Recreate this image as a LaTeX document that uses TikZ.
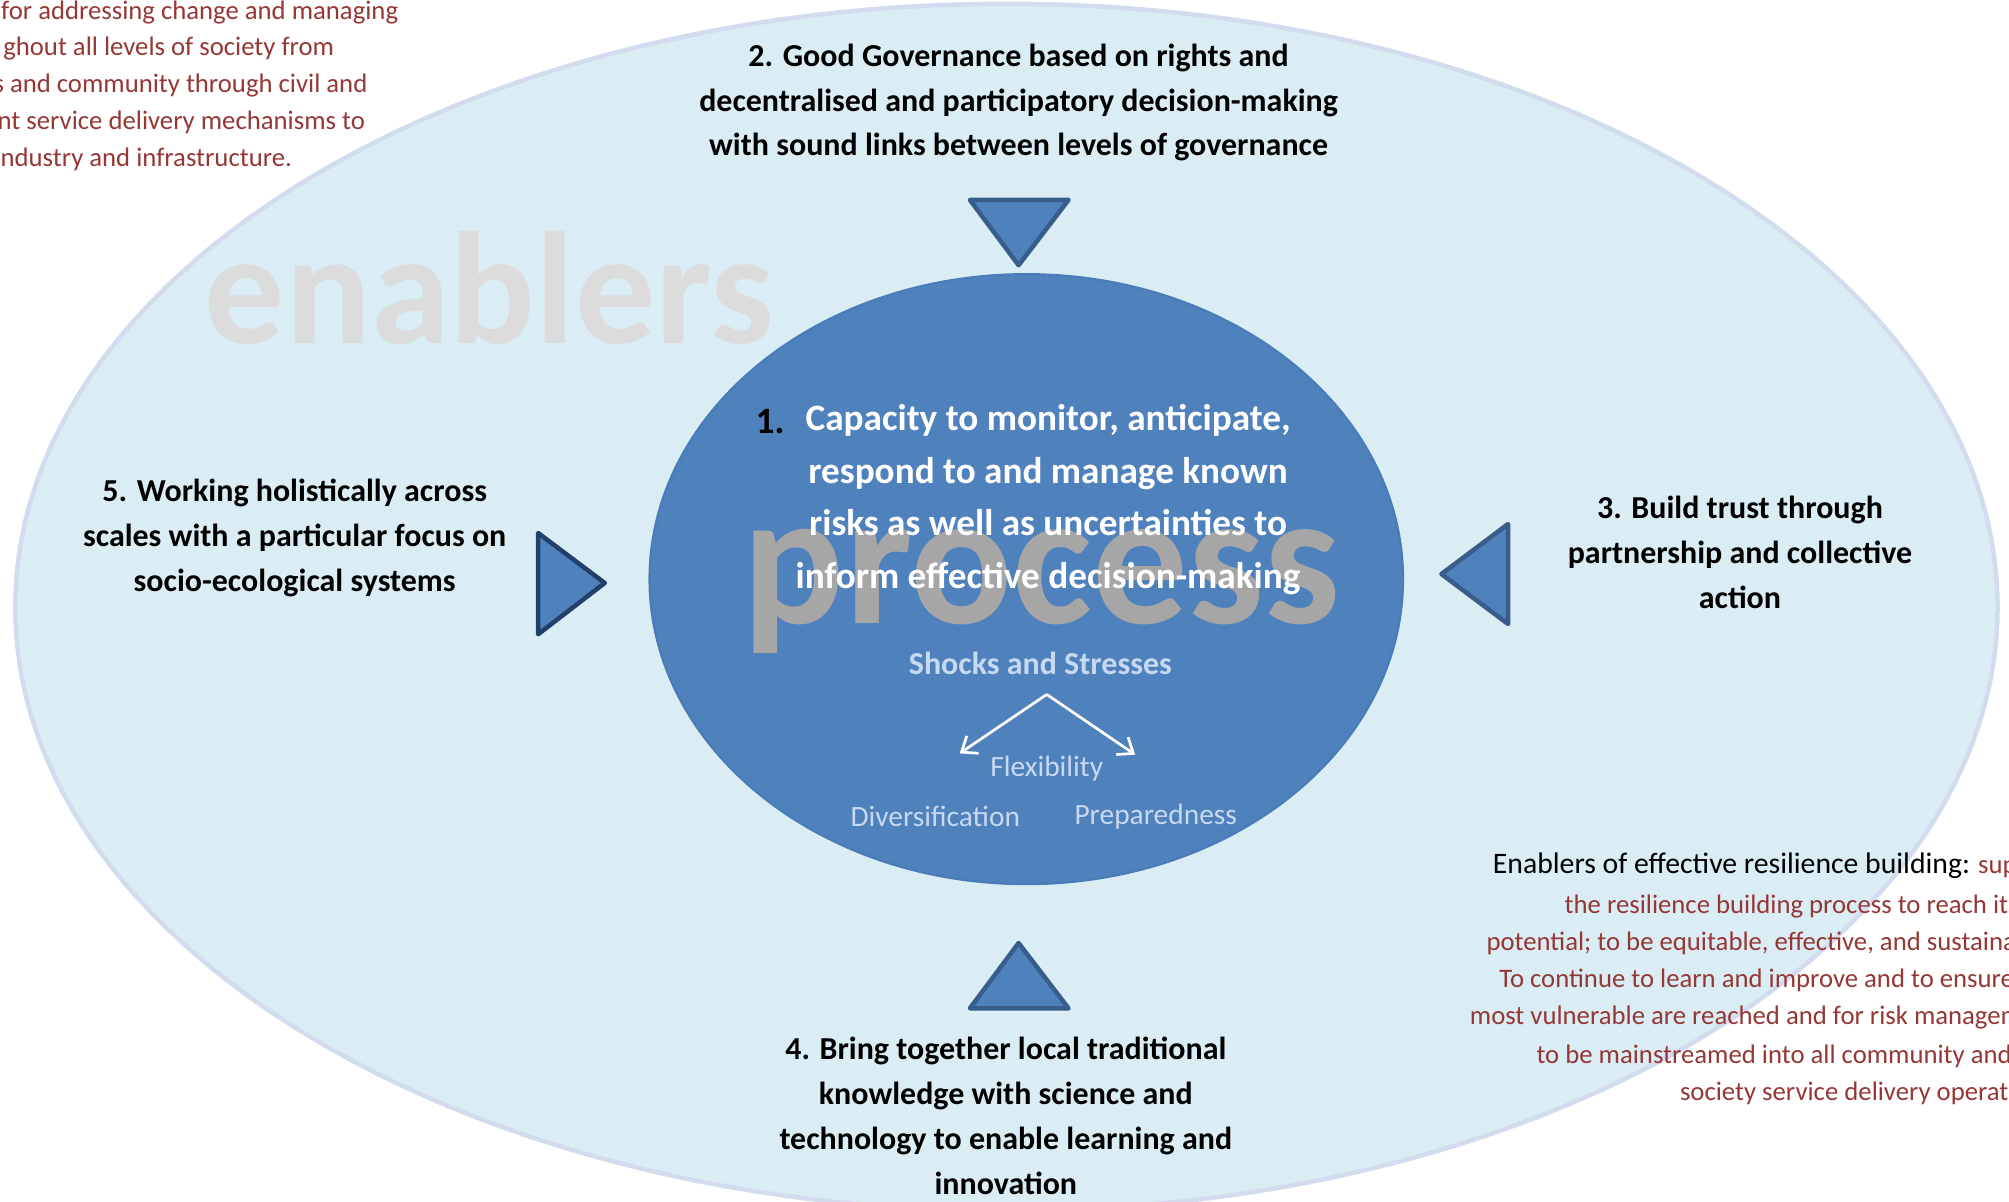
\documentclass[tikz,border=0pt]{standalone}
\usepackage{fontspec}
\setmainfont{Carlito}
\usetikzlibrary{arrows.meta,shapes.geometric}
\definecolor{outerfill}{HTML}{DAEDF4}
\definecolor{outerdraw}{HTML}{D2DCEE}
\definecolor{innerfill}{HTML}{4F81BD}
\definecolor{innerdraw}{HTML}{4A7CB8}
\definecolor{tridraw}{HTML}{385D8A}
\definecolor{tridark}{HTML}{22406A}
\definecolor{wmgray}{HTML}{A6A6A6}
\definecolor{wmlight}{HTML}{DCDCDC}
\definecolor{darkred}{HTML}{953735}
\definecolor{paleblue}{HTML}{C6D9F1}
\begin{document}
\begin{tikzpicture}[x=0.03cm,y=-0.03cm,
  outertxt/.style={font=\fontsize{21.3pt}{29.9pt}\selectfont\bfseries, align=center, inner sep=0pt, text=black},
  innertxt/.style={font=\fontsize{24.8pt}{35pt}\selectfont\bfseries, align=center, inner sep=0pt, text=white},
  redline/.style={font=\fontsize{17.8pt}{25pt}\selectfont, inner sep=0pt, text=darkred, text height=0.7em, text depth=0.2em},
  paletxt/.style={font=\fontsize{19.6pt}{24pt}\selectfont, inner sep=0pt, text=paleblue},
  tri/.style={fill=innerfill, draw=tridraw, line width=3pt, line join=round},
  wm/.style={font=\bfseries, inner sep=0pt, anchor=base}
]
\useasboundingbox (0,0) rectangle (1568,938);
% outer ellipse
\node[ellipse, fill=outerfill, draw=outerdraw, line width=3pt, minimum width=46.41cm, minimum height=28.26cm, inner sep=0pt] (outer) at (785.5,474) {};
% enablers watermark
\node[wm, text=wmlight, font=\fontsize{106.5pt}{106pt}\selectfont\bfseries] (enablers) at (382,268) {enablers};
% inner ellipse
\node[ellipse, fill=innerfill, draw=innerdraw, line width=1.5pt, minimum width=17.64cm, minimum height=14.28cm, inner sep=0pt] (inner) at (801,452) {};
% process watermark
\node[wm, text=wmgray, font=\fontsize{127pt}{126pt}\selectfont\bfseries] (process) at (813,487) {process};
% triangles
\draw[tri] (757,156) -- (834,156) -- (795,207) -- cycle;
\draw[tri] (757,787) -- (834,787) -- (795,736) -- cycle;
\draw[tri, draw=tridark] (420,416) -- (420,495) -- (472,455) -- cycle;
\draw[tri] (1177,409) -- (1177,487) -- (1125,448) -- cycle;
% texts
\node[outertxt] (t2) at (795,80) {2. Good Governance based on rights and\\decentralised and participatory decision-making\\with sound links between levels of governance};
\node[outertxt] (t3) at (1358,431) {3. Build trust through\\partnership and collective\\action};
\node[outertxt] (t5) at (230,420) {5. Working holistically across\\scales with a particular focus on\\socio-ecological systems};
\node[outertxt] (t4) at (785,871) {4. Bring together local traditional\\knowledge with science and\\technology to enable learning and\\innovation};
\node[innertxt, text=black] (n1) at (601,329) {1.};
\node[innertxt] (t1) at (818,390) {Capacity to monitor, anticipate,\\respond to and manage known\\risks as well as uncertainties to\\inform effective decision-making};
% shocks and stresses
\node[font=\fontsize{21.3pt}{24pt}\selectfont\bfseries, inner sep=0pt, text=paleblue] (shocks) at (812,518) {Shocks and Stresses};
\node[paletxt] (flex) at (817,600) {Flexibility};
\node[paletxt] (div) at (730,637) {Diversification};
\node[paletxt] (prep) at (902,637) {Preparedness};
\coordinate (apex) at (817,542);
\coordinate (la) at (749,588);
\coordinate (ra) at (886,589);
\draw[white, line width=1.8pt, -{Straight Barb[length=9pt,width=14pt,line width=1.8pt]}] (apex) -- (la);
\draw[white, line width=1.8pt, -{Straight Barb[length=9pt,width=14pt,line width=1.8pt]}] (apex) -- (ra);
% top-left red text (cut off)
\node[redline, anchor=east] (r1) at (311,12) {for addressing change and managing};
\node[redline, anchor=east] (r2) at (261,40) {ghout all levels of society from};
\node[redline, anchor=east] (r3) at (287,69) {s and community through civil and};
\node[redline, anchor=east] (r4) at (285,98) {nt service delivery mechanisms to};
\node[redline, anchor=east] (r5) at (228,127) {ndustry and infrastructure.};
% bottom-right text (cut off)
\node[redline, anchor=west] (b1) at (1165,679) {\textcolor{black}{\fontsize{19.8pt}{25pt}\selectfont Enablers of effective resilience building:} sup};
\node[redline, anchor=west] (b2) at (1221,710) {the resilience building process to reach it};
\node[redline, anchor=west] (b3) at (1160,739) {potential; to be equitable, effective, and sustaina};
\node[redline, anchor=west] (b4) at (1170,768) {To continue to learn and improve and to ensure};
\node[redline, anchor=west] (b5) at (1147,797) {most vulnerable are reached and for risk managem};
\node[redline, anchor=west] (b6) at (1199,827) {to be mainstreamed into all community and};
\node[redline, anchor=west] (b7) at (1311,856) {society service delivery operat};
\end{tikzpicture}
\end{document}
